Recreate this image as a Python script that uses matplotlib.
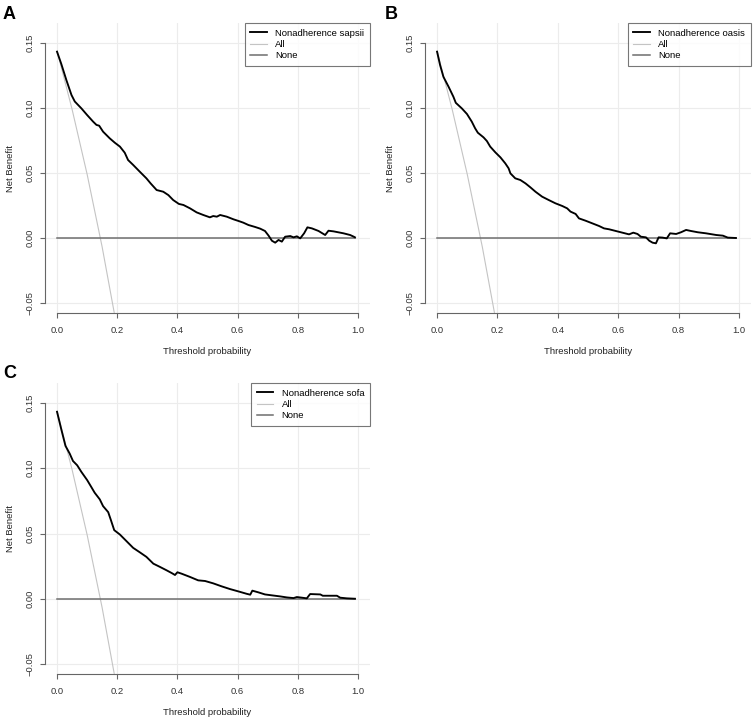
import matplotlib
matplotlib.use("Agg")
import matplotlib.pyplot as plt

plt.rcParams['font.family'] = ['Liberation Sans', 'DejaVu Sans']

# threshold / net benefit
thr_sapsii = [0.0, 0.014, 0.031, 0.048, 0.059, 0.081, 0.10, 0.12, 0.131, 0.14, 0.153, 0.175,
              0.192, 0.209, 0.225, 0.236, 0.253, 0.275, 0.297, 0.311, 0.331, 0.353, 0.37,
              0.386, 0.405, 0.42, 0.442, 0.464, 0.486, 0.508, 0.519, 0.531, 0.542, 0.564,
              0.586, 0.603, 0.619, 0.636, 0.658, 0.675, 0.691, 0.703, 0.714, 0.725, 0.736,
              0.747, 0.758, 0.775, 0.786, 0.797, 0.808, 0.821, 0.832, 0.847, 0.869, 0.891,
              0.902, 0.919, 0.952, 0.974, 0.986, 0.99]
nb_sapsii = [0.1433, 0.134, 0.1215, 0.110, 0.105, 0.0997, 0.0946, 0.0895, 0.087, 0.0864, 0.0818,
             0.0767, 0.0733, 0.0703, 0.0656, 0.060, 0.0562, 0.051, 0.0459, 0.042, 0.0369,
             0.0356, 0.033, 0.0292, 0.0262, 0.0254, 0.0228, 0.0197, 0.0177, 0.0159, 0.0169,
             0.0164, 0.0177, 0.0164, 0.0144, 0.0131, 0.0118, 0.010, 0.0085, 0.0072, 0.0054,
             0.0018, -0.0021, -0.0036, -0.0015, -0.0028, 0.001, 0.0015, 0.0005, 0.0013,
             -0.0003, 0.0036, 0.0082, 0.0074, 0.0054, 0.0023, 0.0056, 0.0051, 0.0036,
             0.0023, 0.001, 0.0005]

thr_oasis = [0.0, 0.01, 0.021, 0.038, 0.054, 0.062, 0.082, 0.099, 0.115, 0.126, 0.135, 0.154,
             0.165, 0.176, 0.193, 0.21, 0.226, 0.237, 0.243, 0.259, 0.276, 0.293, 0.309,
             0.326, 0.348, 0.37, 0.392, 0.415, 0.431, 0.442, 0.459, 0.47, 0.492, 0.514,
             0.537, 0.553, 0.57, 0.592, 0.614, 0.636, 0.65, 0.664, 0.675, 0.692, 0.703,
             0.714, 0.725, 0.734, 0.747, 0.761, 0.772, 0.792, 0.808, 0.825, 0.841, 0.864,
             0.891, 0.925, 0.947, 0.963, 0.99]
nb_oasis = [0.1433, 0.133, 0.124, 0.1164, 0.1087, 0.104, 0.0997, 0.0954, 0.0895, 0.0844, 0.081,
            0.0774, 0.0746, 0.0703, 0.0659, 0.062, 0.0574, 0.0536, 0.0497, 0.0459, 0.0446,
            0.042, 0.039, 0.0356, 0.0318, 0.0292, 0.0267, 0.0246, 0.0228, 0.0203, 0.0185,
            0.0151, 0.0133, 0.0113, 0.0092, 0.0074, 0.0067, 0.0054, 0.0041, 0.0028, 0.0041,
            0.0031, 0.001, 0.0005, -0.0021, -0.0036, -0.0041, 0.0005, 0.0003, -0.0003,
            0.0036, 0.0031, 0.0044, 0.0062, 0.0054, 0.0044, 0.0036, 0.0023, 0.0018,
            0.0003, 0.0]

thr_sofa = [0.0, 0.014, 0.028, 0.042, 0.053, 0.067, 0.081, 0.10, 0.114, 0.125, 0.142, 0.153,
            0.17, 0.179, 0.19, 0.209, 0.231, 0.253, 0.275, 0.297, 0.32, 0.342, 0.364, 0.381,
            0.392, 0.40, 0.414, 0.442, 0.469, 0.492, 0.519, 0.547, 0.575, 0.603, 0.63,
            0.642, 0.649, 0.669, 0.691, 0.714, 0.741, 0.764, 0.786, 0.797, 0.814, 0.83,
            0.841, 0.875, 0.883, 0.93, 0.941, 0.963, 0.99]
nb_sofa = [0.1433, 0.13, 0.1172, 0.1113, 0.1056, 0.1023, 0.0972, 0.091, 0.0856, 0.0813, 0.0762,
           0.071, 0.0664, 0.0603, 0.0526, 0.0492, 0.0441, 0.039, 0.0356, 0.0321, 0.0269,
           0.0244, 0.0218, 0.0197, 0.0182, 0.0203, 0.0192, 0.0167, 0.0141, 0.0136, 0.0118,
           0.0095, 0.0074, 0.0056, 0.0038, 0.0031, 0.0062, 0.0049, 0.0033, 0.0026, 0.0018,
           0.001, 0.0005, 0.0013, 0.0008, 0.0003, 0.0036, 0.0033, 0.0023, 0.0023, 0.0008,
           0.0003, 0.0]

# treat-all and treat-none references
thr_all = [0.0, 0.05, 0.10, 0.15, 0.20]
nb_all = [0.144, 0.099, 0.049, -0.007, -0.070]
thr_none = [0.0, 0.99]
nb_none = [0.0, 0.0]

panels = [
    ("A", "Nonadherence sapsii", thr_sapsii, nb_sapsii),
    ("B", "Nonadherence oasis", thr_oasis, nb_oasis),
    ("C", "Nonadherence sofa", thr_sofa, nb_sofa),
]

W, H = 753, 721
fig = plt.figure(figsize=(W / 100, H / 100), dpi=100)

# axes boxes in pixels: left, top, right, bottom
boxes = [(45, 23, 370, 313), (425, 23, 751, 313), (45, 383, 370, 674)]
letter_pos = [(3, 6), (385, 6), (3, 365)]

fs = 6.8
for (letter, label, thr, nb), (l, t, r, b), (lx, ly) in zip(panels, boxes, letter_pos):
    ax = fig.add_axes([l / W, 1 - b / H, (r - l) / W, (b - t) / H])
    ax.set_xlim(-0.04, 1.04)
    ax.set_ylim(-0.0577, 0.1654)
    ax.set_xticks([0, 0.2, 0.4, 0.6, 0.8, 1.0])
    ax.set_yticks([-0.05, 0, 0.05, 0.10, 0.15])
    ax.set_xticklabels(["0.0", "0.2", "0.4", "0.6", "0.8", "1.0"])
    ax.set_yticklabels(["\u22120.05", "0.00", "0.05", "0.10", "0.15"], rotation=90, va="center")
    ax.grid(True, color="#ececec", linewidth=0.8)
    ax.set_axisbelow(True)

    ax.plot(thr, nb, color="black", linewidth=1.35, label=label, zorder=4)
    ax.plot(thr_all, nb_all, color="#c4c4c4", linewidth=0.8, label="All", zorder=3)
    ax.plot(thr_none, nb_none, color="#6e6e6e", linewidth=1.1, label="None", zorder=3)

    for s in ["top", "right"]:
        ax.spines[s].set_visible(False)
    ax.spines["left"].set_bounds(-0.05, 0.15)
    ax.spines["bottom"].set_bounds(0, 1)
    for s in ["left", "bottom"]:
        ax.spines[s].set_color("#666666")
        ax.spines[s].set_linewidth(0.8)
    ax.tick_params(direction="out", length=3.6, width=0.8, color="#666666",
                   labelsize=fs, labelcolor="#333333")
    ax.tick_params(axis="y", pad=4)
    ax.tick_params(axis="x", pad=6)

    ax.set_ylabel("Net Benefit", fontsize=fs, color="#222222")
    ax.yaxis.set_label_coords(-0.093, 0.5)
    ax.set_xlabel("Threshold probability", fontsize=fs, color="#222222")
    ax.xaxis.set_label_coords(0.5, -0.118)

    leg = ax.legend(loc="upper right", bbox_to_anchor=(1, 1), borderaxespad=0,
                    fontsize=fs, frameon=True, fancybox=False, edgecolor="#555555",
                    handlelength=1.75, handletextpad=0.9, labelspacing=0.25,
                    borderpad=0.6)
    leg.get_frame().set_linewidth(0.8)

    fig.text(lx / W, 1 - ly / H, letter, ha="left", va="top", fontsize=13,
             fontweight="bold")

fig.savefig("out.png", dpi=100)
